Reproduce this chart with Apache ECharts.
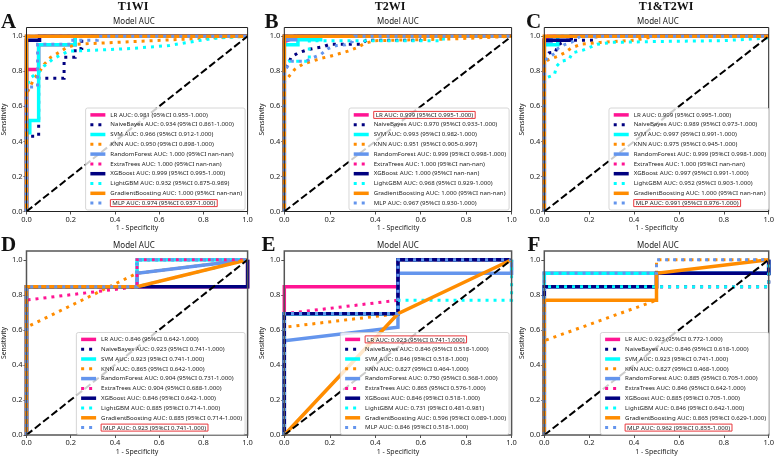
<!DOCTYPE html>
<html>
<head>
<meta charset="utf-8">
<script src="https://cdn.jsdelivr.net/npm/echarts@6/dist/echarts.min.js"></script>
<style>html,body{margin:0;padding:0;background:#fff}#chart{width:777px;height:456px}</style>
</head>
<body>
<div id="chart"></div>
<script>
// ---------- data ----------
const columnTitles = ['T1WI', 'T2WI', 'T1&T2WI'];
const panelLetters = ['A', 'B', 'C', 'D', 'E', 'F'];
const panelTitle = 'Model AUC';
const xAxisName = '1 - Specificity';
const yAxisName = 'Sensitivity';
const tickValues = [0, 0.2, 0.4, 0.6, 0.8, 1.0];
const tickLabels = ['0.0', '0.2', '0.4', '0.6', '0.8', '1.0'];
const chanceLine = [[0, 0], [1, 1]];
const modelNames = ['LR', 'NaiveBayes', 'SVM', 'KNN', 'RandomForest', 'ExtraTrees', 'XGBoost', 'LightGBM', 'GradientBoosting', 'MLP'];

// ROC points [fpr, tpr] per model (order as modelNames)
const rocA = [
  [[0,0],[0,0.81],[0.055,0.81],[0.055,0.952],[0.22,0.952],[0.22,1],[1,1]],
  [[0,0],[0,0.43],[0.055,0.43],[0.055,0.76],[0.17,0.76],[0.17,0.88],[0.22,0.88],[0.22,0.93],[0.25,0.93],[0.25,1],[1,1]],
  [[0,0],[0,0.45],[0.015,0.45],[0.015,0.52],[0.055,0.52],[0.055,0.952],[0.22,0.952],[0.22,1],[1,1]],
  [[0,0],[0,0.67],[0.035,0.76],[0.06,0.8],[0.08,0.84],[0.11,0.88],[0.15,0.91],[0.18,0.935],[0.23,0.955],[1,1]],
  [[0,0],[0,1],[1,1]],
  [[0,0],[0,1],[1,1]],
  [[0,0],[0,0.977],[0.059,0.977],[0.059,1],[1,1]],
  [[0,0],[0,0.7],[0.015,0.76],[0.06,0.8],[0.08,0.83],[0.12,0.87],[0.15,0.89],[0.19,0.915],[0.26,0.918],[0.47,0.93],[0.645,0.947],[0.777,0.975],[0.865,0.99],[1,1]],
  [[0,0],[0,1],[1,1]],
  [[0,0],[0,0.71],[0.05,0.71],[0.05,0.954],[0.2,0.954],[0.2,0.977],[0.32,0.977],[0.32,1],[1,1]]
];
const rocB = [
  [[0,0],[0,0.97],[0.06,1],[1,1]],
  [[0,0],[0,0.8],[0.02,0.85],[0.03,0.88],[0.06,0.905],[0.11,0.926],[0.17,0.94],[0.2,0.954],[0.34,0.954],[0.36,0.977],[0.6,0.977],[0.61,1],[1,1]],
  [[0,0],[0,0.952],[0.06,0.952],[0.06,0.98],[0.16,0.98],[0.16,1],[1,1]],
  [[0,0],[0,0.74],[0.02,0.77],[0.045,0.81],[0.08,0.84],[0.12,0.857],[0.165,0.875],[0.2,0.885],[0.24,0.9],[0.28,0.915],[0.32,0.935],[0.355,0.96],[0.4,0.975],[0.75,0.985],[1,1]],
  [[0,0],[0,0.98],[0.05,0.98],[0.05,1],[1,1]],
  [[0,0],[0,1],[1,1]],
  [[0,0],[0,1],[1,1]],
  [[0,0],[0,0.84],[0.02,0.857],[0.11,0.857],[0.11,0.975],[0.7,0.975],[0.7,1],[1,1]],
  [[0,0],[0,1],[1,1]],
  [[0,0],[0,0.8],[0.02,0.84],[0.03,0.857],[0.09,0.857],[0.11,0.867],[0.13,0.88],[0.16,0.895],[0.19,0.928],[0.23,0.947],[0.27,0.952],[0.3,0.97],[0.31,1],[1,1]]
];
const rocC = [
  [[0,0],[0,0.98],[0.02,0.98],[0.02,1],[1,1]],
  [[0,0],[0,0.88],[0.02,0.905],[0.05,0.91],[0.06,0.95],[0.1,0.977],[0.23,0.977],[0.23,1],[1,1]],
  [[0,0],[0,0.952],[0.06,0.952],[0.06,1],[1,1]],
  [[0,0],[0,0.85],[0.02,0.867],[0.06,0.886],[0.09,0.905],[0.12,0.933],[0.165,0.955],[0.25,0.965],[0.4,0.977],[0.5,1],[1,1]],
  [[0,0],[0,0.97],[0.03,0.97],[0.03,1],[1,1]],
  [[0,0],[0,1],[1,1]],
  [[0,0],[0,0.977],[0.12,0.977],[0.12,1],[1,1]],
  [[0,0],[0,0.74],[0.01,0.764],[0.045,0.78],[0.055,0.83],[0.075,0.857],[0.11,0.867],[0.125,0.905],[0.17,0.92],[0.2,0.935],[0.235,0.954],[0.3,0.965],[0.5,0.97],[0.8,0.975],[1,0.99],[1,1]],
  [[0,0],[0,1],[1,1]],
  [[0,0],[0,0.86],[0.02,0.88],[0.05,0.905],[0.06,0.93],[0.09,0.952],[0.12,0.965],[0.14,0.98],[0.16,1],[1,1]]
];
const rocD = [
  [[0,0],[0,0.846],[1,0.846],[1,1]],
  [[0,0],[0,0.846],[0.5,0.846],[0.5,1],[1,1]],
  [[0,0],[0,0.846],[0.5,0.846],[0.5,1],[1,1]],
  [[0,0],[0,0.615],[0.5,0.923],[1,1]],
  [[0,0],[0,0.846],[0.5,0.846],[0.5,0.923],[1,1]],
  [[0,0],[0,0.77],[0.5,0.846],[0.5,1],[1,1]],
  [[0,0],[0,0.846],[1,0.846],[1,1]],
  [[0,0],[0,0.846],[0.5,0.846],[1,1]],
  [[0,0],[0,0.846],[0.5,0.846],[1,1]],
  [[0,0],[0,0.846],[0.5,0.846],[0.5,1],[1,1]]
];
const rocE = [
  [[0,0],[0,0.846],[0.5,0.846],[0.5,1],[1,1]],
  [[0,0],[0,0.692],[0.5,0.692],[0.5,1],[1,1]],
  [[0,0],[0,0.692],[0.5,0.692],[0.5,1],[1,1]],
  [[0,0],[0,0.615],[0.5,0.692],[0.5,1],[1,1]],
  [[0,0],[0,0.538],[0.5,0.615],[0.5,0.923],[1,0.923],[1,1]],
  [[0,0],[0,0.692],[0.5,0.769],[0.5,1],[1,1]],
  [[0,0],[0,0.692],[0.5,0.692],[0.5,1],[1,1]],
  [[0,0],[0,0.692],[0.5,0.692],[0.5,0.769],[1,0.769],[1,1]],
  [[0,0],[0.5,0.692],[1,1]],
  [[0,0],[0,0.692],[0.5,0.692],[0.5,1],[1,1]]
];
const rocF = [
  [[0,0],[0,0.923],[1,0.923],[1,1]],
  [[0,0],[0,0.846],[1,0.846],[1,1]],
  [[0,0],[0,0.923],[1,0.923],[1,1]],
  [[0,0],[0,0.538],[0.5,0.769],[0.5,1],[1,1]],
  [[0,0],[0,0.846],[0.5,0.846],[0.5,0.923],[1,0.923],[1,1]],
  [[0,0],[0,0.846],[1,0.846],[1,1]],
  [[0,0],[0,0.846],[0.5,0.846],[0.5,0.923],[1,0.923],[1,1]],
  [[0,0],[0,0.846],[1,0.846],[1,1]],
  [[0,0],[0,0.769],[0.5,0.769],[0.5,0.923],[1,1]],
  [[0,0],[0,0.923],[0.5,0.923],[0.5,1],[1,1]]
];

const labelsA = ['LR AUC: 0.981 (95%CI 0.955-1.000)','NaiveBayes AUC: 0.934 (95%CI 0.861-1.000)','SVM AUC: 0.966 (95%CI 0.912-1.000)','KNN AUC: 0.950 (95%CI 0.898-1.000)','RandomForest AUC: 1.000 (95%CI nan-nan)','ExtraTrees AUC: 1.000 (95%CI nan-nan)','XGBoost AUC: 0.999 (95%CI 0.995-1.000)','LightGBM AUC: 0.932 (95%CI 0.875-0.989)','GradientBoosting AUC: 1.000 (95%CI nan-nan)','MLP AUC: 0.974 (95%CI 0.937-1.000)'];
const labelsB = ['LR AUC: 0.999 (95%CI 0.995-1.000)','NaiveBayes AUC: 0.970 (95%CI 0.933-1.000)','SVM AUC: 0.993 (95%CI 0.982-1.000)','KNN AUC: 0.951 (95%CI 0.905-0.997)','RandomForest AUC: 0.999 (95%CI 0.998-1.000)','ExtraTrees AUC: 1.000 (95%CI nan-nan)','XGBoost AUC: 1.000 (95%CI nan-nan)','LightGBM AUC: 0.968 (95%CI 0.929-1.000)','GradientBoosting AUC: 1.000 (95%CI nan-nan)','MLP AUC: 0.967 (95%CI 0.930-1.000)'];
const labelsC = ['LR AUC: 0.999 (95%CI 0.995-1.000)','NaiveBayes AUC: 0.989 (95%CI 0.973-1.000)','SVM AUC: 0.997 (95%CI 0.991-1.000)','KNN AUC: 0.975 (95%CI 0.945-1.000)','RandomForest AUC: 0.999 (95%CI 0.998-1.000)','ExtraTrees AUC: 1.000 (95%CI nan-nan)','XGBoost AUC: 0.997 (95%CI 0.991-1.000)','LightGBM AUC: 0.952 (95%CI 0.903-1.000)','GradientBoosting AUC: 1.000 (95%CI nan-nan)','MLP AUC: 0.991 (95%CI 0.976-1.000)'];
const labelsD = ['LR AUC: 0.846 (95%CI 0.642-1.000)','NaiveBayes AUC: 0.923 (95%CI 0.741-1.000)','SVM AUC: 0.923 (95%CI 0.741-1.000)','KNN AUC: 0.865 (95%CI 0.642-1.000)','RandomForest AUC: 0.904 (95%CI 0.731-1.000)','ExtraTrees AUC: 0.904 (95%CI 0.688-1.000)','XGBoost AUC: 0.846 (95%CI 0.642-1.000)','LightGBM AUC: 0.885 (95%CI 0.714-1.000)','GradientBoosting AUC: 0.885 (95%CI 0.714-1.000)','MLP AUC: 0.923 (95%CI 0.741-1.000)'];
const labelsE = ['LR AUC: 0.923 (95%CI 0.741-1.000)','NaiveBayes AUC: 0.846 (95%CI 0.518-1.000)','SVM AUC: 0.846 (95%CI 0.518-1.000)','KNN AUC: 0.827 (95%CI 0.464-1.000)','RandomForest AUC: 0.750 (95%CI 0.368-1.000)','ExtraTrees AUC: 0.865 (95%CI 0.576-1.000)','XGBoost AUC: 0.846 (95%CI 0.518-1.000)','LightGBM AUC: 0.731 (95%CI 0.481-0.981)','GradientBoosting AUC: 0.596 (95%CI 0.089-1.000)','MLP AUC: 0.846 (95%CI 0.518-1.000)'];
const labelsF = ['LR AUC: 0.923 (95%CI 0.772-1.000)','NaiveBayes AUC: 0.846 (95%CI 0.618-1.000)','SVM AUC: 0.923 (95%CI 0.741-1.000)','KNN AUC: 0.827 (95%CI 0.468-1.000)','RandomForest AUC: 0.885 (95%CI 0.705-1.000)','ExtraTrees AUC: 0.846 (95%CI 0.642-1.000)','XGBoost AUC: 0.885 (95%CI 0.705-1.000)','LightGBM AUC: 0.846 (95%CI 0.642-1.000)','GradientBoosting AUC: 0.865 (95%CI 0.629-1.000)','MLP AUC: 0.962 (95%CI 0.855-1.000)'];
// index of the boxed legend entry per panel
const highlighted = [9, 0, 9, 9, 0, 9];

// ---------- styles / layout ----------
const modelStyles = [
  {color: '#FF1493', dotted: false},
  {color: '#000080', dotted: true},
  {color: '#00FFFF', dotted: false},
  {color: '#FF8C00', dotted: true},
  {color: '#6495ED', dotted: false},
  {color: '#FF1493', dotted: true},
  {color: '#000080', dotted: false},
  {color: '#00FFFF', dotted: true},
  {color: '#FF8C00', dotted: false},
  {color: '#6495ED', dotted: true}
];
const rocs = [rocA, rocB, rocC, rocD, rocE, rocF];
const labels = [labelsA, labelsB, labelsC, labelsD, labelsE, labelsF];
const W = 777, H = 456;
const colLeft = [20.3, 284.3, 544.3];
const plotW = 227.3;
const rowTop = [27.5, 251];
const rowH = [184, 185];
const SANS = "'Noto Sans', 'DejaVu Sans', sans-serif";
const SERIF = "'Liberation Serif', 'DejaVu Serif', serif";

const grids = [], xAxes = [], yAxes = [], series = [], legends = [], graphics = [];
for (let p = 0; p < 6; p++) {
  const c = p % 3, r = Math.floor(p / 3);
  const left = colLeft[c], top = rowTop[r], h = rowH[r];
  grids.push({left: left, top: top, width: plotW, height: h, show: true, borderColor: r === 0 ? '#222' : '#555', borderWidth: r === 0 ? 1 : 1.5, backgroundColor: 'transparent', z: 30});
  const lbl = {fontSize: 7.5, color: '#222', fontFamily: SANS, customValues: tickValues, formatter: v => tickLabels[tickValues.findIndex(t => Math.abs(t - v) < 1e-6)] || ''};
  xAxes.push({type: 'value', gridIndex: p, min: 0, max: 1, axisLine: {show: false}, splitLine: {show: false},
    axisTick: {show: true, length: 3, lineStyle: {color: '#222', width: 0.8}, customValues: tickValues},
    axisLabel: Object.assign({margin: 4}, lbl),
    name: xAxisName, nameLocation: 'middle', nameGap: 13, nameTextStyle: {fontSize: 7, color: '#222', fontFamily: SANS}});
  yAxes.push({type: 'value', gridIndex: p, min: 0, max: 1.05, axisLine: {show: false}, splitLine: {show: false},
    axisTick: {show: true, length: 3, lineStyle: {color: '#222', width: 0.8}, customValues: tickValues},
    axisLabel: Object.assign({margin: 4}, lbl),
    name: yAxisName, nameLocation: 'middle', nameGap: 14, nameRotate: 90, nameTextStyle: {fontSize: 6.8, color: '#222', fontFamily: SANS}});
  rocs[p].forEach((pts, m) => {
    const st = modelStyles[m];
    series.push({type: 'line', name: labels[p][m], xAxisIndex: p, yAxisIndex: p, data: pts,
      symbol: 'none', showSymbol: false, clip: true, silent: true, animation: false, z: 3 + m,
      lineStyle: {color: st.color, width: st.dotted ? 3 : 3.5, type: st.dotted ? [3, 5] : 'solid', cap: 'butt', join: 'miter'}});
  });
  series.push({type: 'line', name: '', xAxisIndex: p, yAxisIndex: p, data: chanceLine, symbol: 'none', silent: true, animation: false, z: 20,
    lineStyle: {color: '#000', width: 2, type: [7.4, 3.2]}});
  const hlName = labels[p][highlighted[p]];
  legends.push({orient: 'vertical', right: W - (left + plotW - 2.5), bottom: H - (top + h - 1.5), data: labels[p].slice(),
    selectedMode: false, itemWidth: 15, itemHeight: 6, itemGap: 0, padding: [2, 3, 2, 3], z: 40,
    backgroundColor: 'rgba(255,255,255,0.8)', borderColor: '#cccccc', borderWidth: 0.8, borderRadius: 2,
    lineStyle: {width: 'inherit', type: 'inherit'},
    itemStyle: {color: 'rgba(0,0,0,0)', borderWidth: 0, opacity: 0},
    textStyle: {fontSize: 6.1, color: '#222', fontFamily: SANS, lineHeight: 9.8,
      rich: {hl: {fontSize: 6.1, fontFamily: SANS, color: '#222', borderColor: '#e8383d', borderWidth: 1, padding: [1, 2, 0, 2], lineHeight: 9.8}}},
    formatter: (name => n => n === name ? '{hl|' + n + '}' : n)(hlName)});
  graphics.push({type: 'text', x: left + plotW / 2, y: r === 0 ? 22 : 245.7, style: {text: panelTitle, font: '8px ' + SANS, fill: '#222', align: 'center', verticalAlign: 'middle'}});
}
const letterPos = [[8.5, 22.5], [271.5, 22.5], [533.5, 22.5], [8.5, 246], [268.5, 246], [534, 246]];
panelLetters.forEach((t, i) => graphics.push({type: 'text', x: letterPos[i][0], y: letterPos[i][1], style: {text: t, font: 'bold 21px ' + SERIF, fill: '#111', align: 'center', verticalAlign: 'middle'}}));
const colTitleX = [133, 390, 666];
columnTitles.forEach((t, i) => graphics.push({type: 'text', x: colTitleX[i], y: 7, style: {text: t, font: 'bold 12px ' + SERIF, fill: '#111', align: 'center', verticalAlign: 'middle'}}));

const chart = echarts.init(document.getElementById('chart'), null, {renderer: 'canvas'});
chart.setOption({animation: false, backgroundColor: '#fff', grid: grids, xAxis: xAxes, yAxis: yAxes, series: series, legend: legends, graphic: graphics});
</script>
</body>
</html>
